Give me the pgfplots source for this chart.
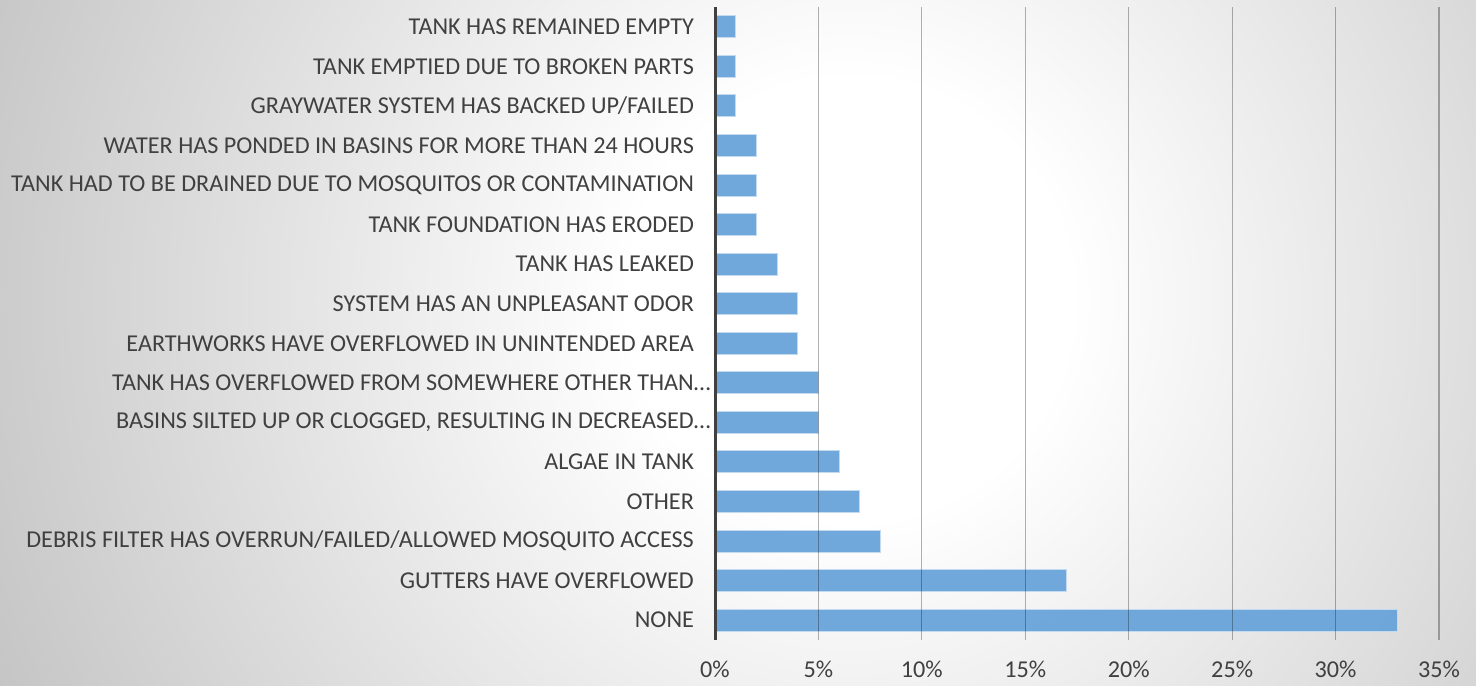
\documentclass[border=0pt]{standalone}
\usepackage{fontspec}
\setmainfont{Carlito}
\usepackage{pgfplots}
\pgfplotsset{compat=1.18}
\definecolor{barblue}{RGB}{106,164,218}
\definecolor{txt}{RGB}{64,64,64}
\pgfdeclareradialshading{bg}{\pgfpoint{0bp}{0bp}}{rgb(0bp)=(1,1,1);rgb(11bp)=(1,1,1);rgb(47bp)=(0.77,0.77,0.77);rgb(50bp)=(0.77,0.77,0.77)}
\begin{document}
\begin{tikzpicture}[font=\fontsize{12.1}{14}\selectfont]
\begin{scope}
\clip (0,0) rectangle (738pt,342.5pt);
\node[inner sep=0pt, scale=10] at (425pt,192.5pt) {\pgfuseshading{bg}};
\end{scope}
\useasboundingbox (0,0) rectangle (738pt,342.5pt);
\begin{axis}[
    at={(357.5pt,22.5pt)}, anchor=south west,
    scale only axis, width=362pt, height=316.5pt,
    xmin=0, xmax=35, ymin=-0.5, ymax=15.5,
    xbar, bar width=11pt,
    xtick={0,5,...,35},
    xticklabel={\pgfmathprintnumber[assume math mode=true]{\tick}\%},
    xticklabel style={yshift=-7pt},
    ytick={0,...,15},
    yticklabels={NONE, GUTTERS HAVE OVERFLOWED,
        DEBRIS FILTER HAS OVERRUN/FAILED/ALLOWED MOSQUITO ACCESS,
        OTHER, ALGAE IN TANK,
        {BASINS SILTED UP OR CLOGGED, RESULTING IN DECREASED\rlap{…}},
        TANK HAS OVERFLOWED FROM SOMEWHERE OTHER THAN\rlap{…},
        EARTHWORKS HAVE OVERFLOWED IN UNINTENDED AREA,
        SYSTEM HAS AN UNPLEASANT ODOR, TANK HAS LEAKED,
        TANK FOUNDATION HAS ERODED,
        TANK HAD TO BE DRAINED DUE TO MOSQUITOS OR CONTAMINATION,
        WATER HAS PONDED IN BASINS FOR MORE THAN 24 HOURS,
        GRAYWATER SYSTEM HAS BACKED UP/FAILED,
        TANK EMPTIED DUE TO BROKEN PARTS,
        TANK HAS REMAINED EMPTY},
    yticklabel style={xshift=-7pt},
    tick label style={text=txt},
    major tick length=0pt,
    xmajorgrids, grid style={black, opacity=0.3, line width=0.6pt},
    axis y line=left, axis x line=bottom,
    x axis line style={draw=none},
    y axis line style={-, draw=black!75, line width=1.5pt},
    axis on top,
]
\addplot[fill=barblue, fill opacity=0.95, draw=barblue!40!white, line width=0.5pt]
coordinates {
    (33,0) (17,1) (8,2) (7,3) (6,4) (5,5) (5,6) (4,7)
    (4,8) (3,9) (2,10) (2,11) (2,12) (1,13) (1,14) (1,15)
};
\end{axis}
\end{tikzpicture}
\end{document}
